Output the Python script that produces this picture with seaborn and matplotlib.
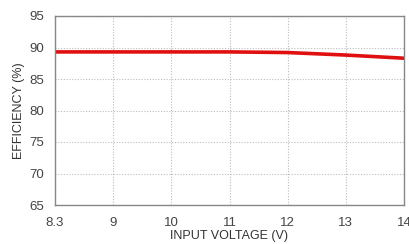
import matplotlib
matplotlib.use("Agg")
import matplotlib.pyplot as plt
import seaborn as sns
import pandas as pd

voltage_labels = ["8.3", "9", "10", "11", "12", "13", "14"]
efficiency = [89.3, 89.3, 89.3, 89.3, 89.2, 88.8, 88.3]
y_ticks = [65, 70, 75, 80, 85, 90, 95]

sns.set_style("white")
plt.rcParams['font.family'] = ['Liberation Sans', 'DejaVu Sans']

df = pd.DataFrame({"pos": list(range(len(voltage_labels))), "eff": efficiency})

fig = plt.figure(figsize=(4.09, 2.44), dpi=100)
ax = fig.add_axes([55/409, 1-205/244, (404-55)/409, (205-16)/244])
sns.lineplot(data=df, x="pos", y="eff", ax=ax, color="#e01010", linewidth=2.6)

ax.set_xlim(0, len(voltage_labels) - 1)
ax.set_ylim(65, 95)
ax.set_xticks(range(len(voltage_labels)))
ax.set_xticklabels(voltage_labels)
ax.set_yticks(y_ticks)
ax.grid(True, color="#bbbbbb", linestyle=(0, (1, 1.5)), linewidth=0.8)
for s in ax.spines.values():
    s.set_color("#888888")
    s.set_linewidth(1.0)
ax.tick_params(axis="both", labelsize=9.5, colors="#444444", length=0, pad=8)
ax.tick_params(axis="x", pad=9)
ax.set_xlabel("INPUT VOLTAGE (V)", fontsize=9, color="#333333", labelpad=0)
ax.set_ylabel("EFFICIENCY (%)", fontsize=9, color="#333333", labelpad=3)
fig.savefig("out.png", dpi=100)
